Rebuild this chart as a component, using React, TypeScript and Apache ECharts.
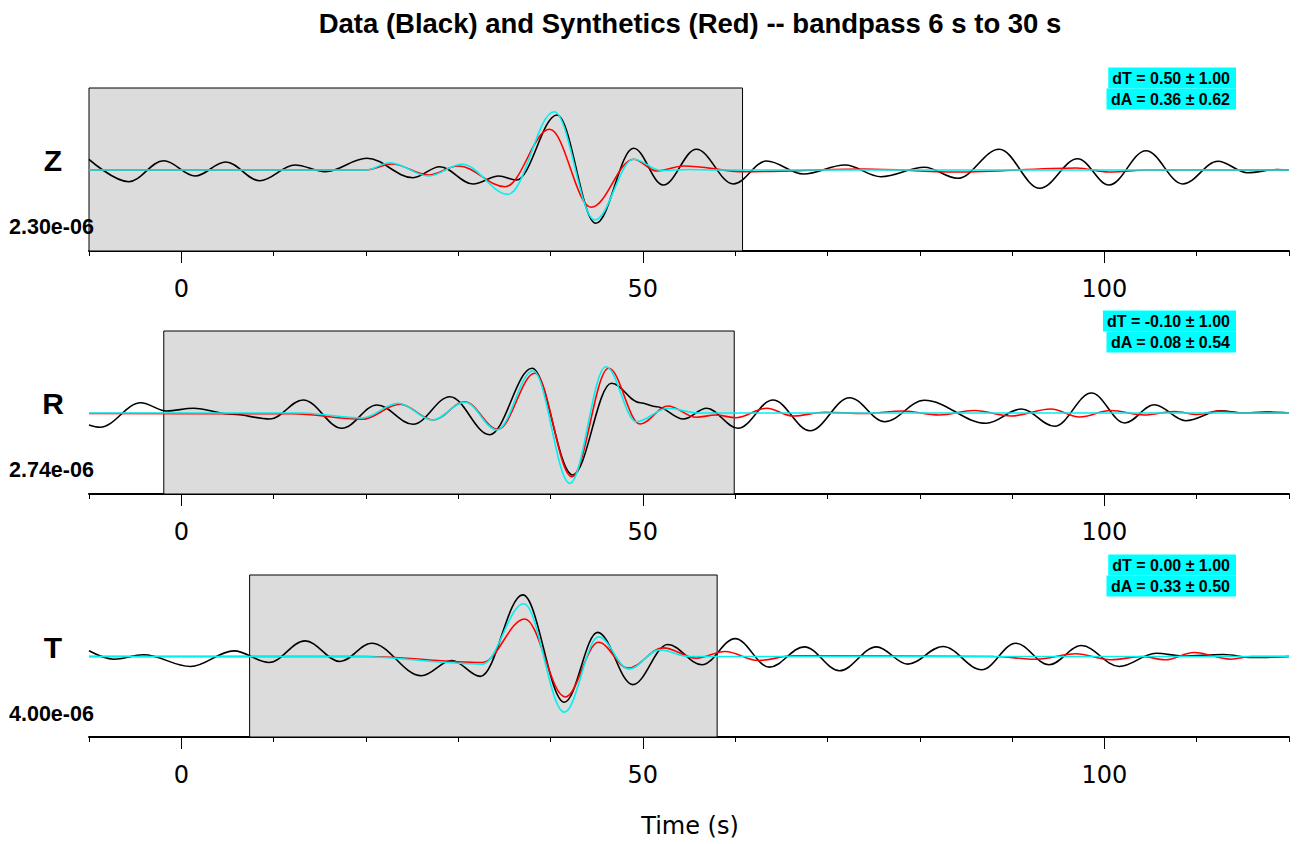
import React, { useEffect, useRef } from "react";
import * as echarts from "echarts";

// ---- data (peaks and troughs) ----
const components = ["Z", "R", "T"];
const scaleLabels = ["2.30e-06", "2.74e-06", "4.00e-06"];
const dTLabels = ["dT = 0.50 ± 1.00", "dT = -0.10 ± 1.00", "dT = 0.00 ± 1.00"];
const dALabels = ["dA = 0.36 ± 0.62", "dA = 0.08 ± 0.54", "dA = 0.33 ± 0.50"];
const windows = [
  [-10, 60.8],
  [-1.9, 59.9],
  [7.4, 58.05],
];
const xMin = -10;
const xMax = 120;
const majorTicks = [0, 50, 100];

const zBlack = [
  [-10, 10.7], [-5.7, -11.7], [-1.9, 9.3], [1.5, -6], [4.8, 8], [8.5, -10.7], [12.3, 5], [15.6, -1.7], [20.1, 11.7],
  [25.1, -7.7], [28.0, 3.3], [31.6, -14], [34.4, -6], [36.3, -10], [40.7, 55], [44.9, -53.3], [49.0, 21.7], [52.2, -15],
  [55.8, 20.7], [59.8, -14], [63.4, 9], [67.4, -4], [71.9, 5], [75.8, -6.7], [80.5, 2.7], [84.1, -8.3], [88.6, 20.7],
  [93.0, -18.3], [97.1, 11.3], [100.5, -15], [104.5, 19.3], [108.5, -14], [112.3, 8.7], [115.5, -2.7], [118.7, 0.5], [120, 0],
];
const zRed = [
  [-10, 0], [20, 0], [22.8, 6], [26.8, -5], [30.0, 4], [35.1, -16.7], [39.9, 40.7], [44.4, -37.3], [49.0, 10.7],
  [51.5, -1], [54.4, 4], [61.1, -1.7], [74, 1], [84, -2], [97, 2], [100.5, -2], [105, 0], [120, 0],
];
const zCyan = [
  [-10, 0], [20, 0], [22.6, 7.3], [26.8, -6], [30.4, 5.7], [35.4, -24.3], [40.4, 58.3], [44.8, -50], [49.0, 10.7],
  [52, -0.5], [55, 0.5], [58, 0], [120, 0],
];

const rBlack = [
  [-10, -12], [-8.8, -14.3], [-4.4, 10.3], [-1.6, 2], [1.3, 4.7], [5.5, -1.2], [9.6, -6], [13.2, 13], [17.4, -15.3],
  [21.2, 8], [25.1, -11.3], [29.1, 16.3], [33.4, -21.7], [38.0, 44.7], [42.4, -62], [46.6, 29.7], [49.7, 10.3],
  [51.5, 6.3], [54.4, -6], [56.9, 4.7], [60.3, -15.3], [64.1, 13], [68.1, -17.7], [72.4, 15.3], [76.2, -8.7],
  [80.5, 12.7], [87.2, -10.3], [91.0, 4], [94.6, -13.3], [98.6, 20], [102.2, -10], [105.4, 8.3], [108.8, -7.7],
  [112.6, 2.3], [114.9, 0], [117.4, 1], [120, 0],
];
const rRed = [
  [-10, -0.5], [12, -0.8], [19.6, -6.3], [23.7, 8.7], [27.3, -7], [30.7, 11.3], [34.3, -16.3], [38.3, 39.7],
  [42.3, -63.7], [46.3, 44.7], [49.7, -11], [52.7, 7], [55.8, -4.3], [57.9, -2], [60.1, -4.7], [63.4, 4.7], [66.3, -3],
  [69.7, 0.7], [74, -0.5], [78.2, 2], [82.1, -2], [85.9, 2.5], [89.9, -3], [94.2, 4], [97.3, -4], [100.7, 2.5],
  [104.3, -2], [107.6, 1.5], [110.1, -1.5], [112.3, 2], [115, 0], [120, 0],
];
const rCyan = [
  [-10, 0], [13, 0], [19.6, -5], [23.5, 9.7], [27.2, -7], [30.7, 10.7], [34.2, -17], [38.1, 42.3], [42.1, -70.3],
  [46.0, 46.3], [49.3, -8.7], [52.7, 4.7], [56, 0], [120, 0],
];

const tBlack = [
  [-10, 5.7], [-7.3, -2.7], [-4.1, 1.7], [1.0, -10], [5.7, 5.7], [9.5, -6], [13.4, 15.7], [17.2, -5], [20.6, 13.3],
  [26.0, -19.3], [29.3, -4], [32.4, -20], [37.0, 62], [41.5, -46], [45.1, 24.3], [48.9, -28.3], [52.7, 12], [56.4, -8.3],
  [60.0, 18], [63.7, -10.7], [67.5, 9.7], [71.3, -14.3], [75.3, 9.7], [78.7, -7.7], [82.5, 10], [86.7, -13.3],
  [90.4, 13.3], [94.0, -8.3], [97.5, 11], [101.6, -10], [105.6, 3.3], [108.5, 0.5], [112.9, 2], [116, -1], [120, 0],
];
const tRed = [
  [-10, 0], [20, 0], [32.6, -6], [37.2, 37.7], [41.6, -40.7], [45.2, 14.3], [48.4, -11.7], [52.2, 8.7], [55.8, -1.7],
  [58.9, 5], [62.5, -4], [66.3, 0.7], [88, 0], [92.6, -2.7], [96.9, 2.7], [100.7, -3.3], [104.1, 0], [106.6, -3.3],
  [109.7, 4], [113.7, -2.7], [116, 0], [120, 0],
];
const tCyan = [
  [-10, 0], [19, 0], [32.6, -7.7], [37.1, 53], [41.5, -56], [45.2, 19.7], [48.5, -12.7], [51.8, 6.7], [55, 0], [120, 0],
];

const blackTraces = [zBlack, rBlack, tBlack];
const redTraces = [zRed, rRed, tRed];
const cyanTraces = [zCyan, rCyan, tCyan];

// ---- layout ----
const W = 1301;
const H = 844;
const gridTops = [88, 331, 575];
const gridHeights = [163, 163, 162];
const yMin = -81;
const yMax = 82;
const boldFont = "'Liberation Sans', Arial, sans-serif";
const plainFont = "'DejaVu Sans', sans-serif";

export default function App() {
  const ref = useRef<HTMLDivElement>(null);

  useEffect(() => {
    if (!ref.current) return;
    const chart = echarts.init(ref.current, undefined, { renderer: "svg" });

    const grids: any[] = [];
    const xAxes: any[] = [];
    const yAxes: any[] = [];
    const series: any[] = [];
    const graphics: any[] = [];

    for (let i = 0; i < 3; i++) {
      grids.push({ left: 89, right: 12, top: gridTops[i], height: gridHeights[i] });
      xAxes.push({
        gridIndex: i,
        type: "value",
        position: "bottom",
        min: xMin,
        max: xMax,
        interval: 10,
        axisLine: { show: true, onZero: false, lineStyle: { color: "#000", width: 2 } },
        axisTick: { show: true, length: 5, lineStyle: { color: "#000", width: 1 } },
        axisLabel: { show: false },
        splitLine: { show: false },
      });
      xAxes.push({
        gridIndex: i,
        type: "value",
        position: "bottom",
        min: xMin,
        max: xMax,
        interval: 10,
        axisLine: { show: false, onZero: false },
        axisTick: { show: true, length: 12, customValues: majorTicks, lineStyle: { color: "#000", width: 1 } },
        axisLabel: {
          show: true,
          customValues: majorTicks,
          fontSize: 24,
          fontFamily: plainFont,
          color: "#000",
          margin: 26,
        },
        splitLine: { show: false },
      });
      yAxes.push({ gridIndex: i, type: "value", min: yMin, max: yMax, show: false });

      series.push({
        type: "line",
        xAxisIndex: 2 * i,
        yAxisIndex: i,
        data: [
          [windows[i][0], 0],
          [windows[i][1], 0],
        ],
        symbol: "none",
        lineStyle: { opacity: 0 },
        silent: true,
        z: 1,
        markArea: {
          silent: true,
          itemStyle: { color: "#dcdcdc", borderColor: "#000", borderWidth: 1 },
          data: [[{ xAxis: windows[i][0] }, { xAxis: windows[i][1] }]],
        },
      });
      const traces: [number[][], string, number][] = [
        [blackTraces[i], "#000000", 3],
        [redTraces[i], "#ff0000", 4],
        [cyanTraces[i], "#00f0f0", 5],
      ];
      traces.forEach(([data, color, z]) => {
        series.push({
          type: "line",
          xAxisIndex: 2 * i,
          yAxisIndex: i,
          data,
          smooth: 0.36,
          smoothMonotone: "x",
          symbol: "none",
          showSymbol: false,
          clip: false,
          z,
          lineStyle: { color, width: 1.6 },
        });
      });

      const top = gridTops[i];
      graphics.push({
        type: "text",
        x: 53,
        y: top + 72,
        style: {
          text: components[i],
          fontSize: 30,
          fontWeight: "bold",
          fontFamily: boldFont,
          fill: "#000",
          align: "center",
          verticalAlign: "middle",
        },
      });
      graphics.push({
        type: "text",
        x: 9,
        y: top + 139,
        z: 100,
        style: {
          text: scaleLabels[i],
          fontSize: 21.5,
          fontWeight: "bold",
          fontFamily: boldFont,
          fill: "#000",
          align: "left",
          verticalAlign: "middle",
        },
      });
      [dTLabels[i], dALabels[i]].forEach((txt, k) => {
        graphics.push({
          type: "text",
          x: 1236,
          y: top + (k === 0 ? -10 : 11),
          z: 100,
          style: {
            text: txt,
            fontSize: 16,
            fontWeight: "bold",
            fontFamily: boldFont,
            fill: "#000",
            align: "right",
            verticalAlign: "middle",
            lineHeight: 17,
            backgroundColor: "#00ffff",
            padding: [2, 6, 2, 4],
          },
        });
      });
    }

    graphics.push({
      type: "text",
      x: 690,
      y: 23,
      style: {
        text: "Data (Black) and Synthetics (Red) -- bandpass 6 s to 30 s",
        fontSize: 27.5,
        fontWeight: "bold",
        fontFamily: boldFont,
        fill: "#000",
        align: "center",
        verticalAlign: "middle",
      },
    });
    graphics.push({
      type: "text",
      x: 690,
      y: 826,
      style: {
        text: "Time (s)",
        fontSize: 24,
        fontFamily: plainFont,
        fill: "#000",
        align: "center",
        verticalAlign: "middle",
      },
    });

    chart.setOption({
      animation: false,
      backgroundColor: "#ffffff",
      grid: grids,
      xAxis: xAxes,
      yAxis: yAxes,
      series,
      graphic: graphics,
    });

    return () => chart.dispose();
  }, []);

  return (
    <div
      ref={ref}
      style={{ position: "fixed", left: 0, top: 0, width: W, height: H, background: "#fff" }}
    />
  );
}
